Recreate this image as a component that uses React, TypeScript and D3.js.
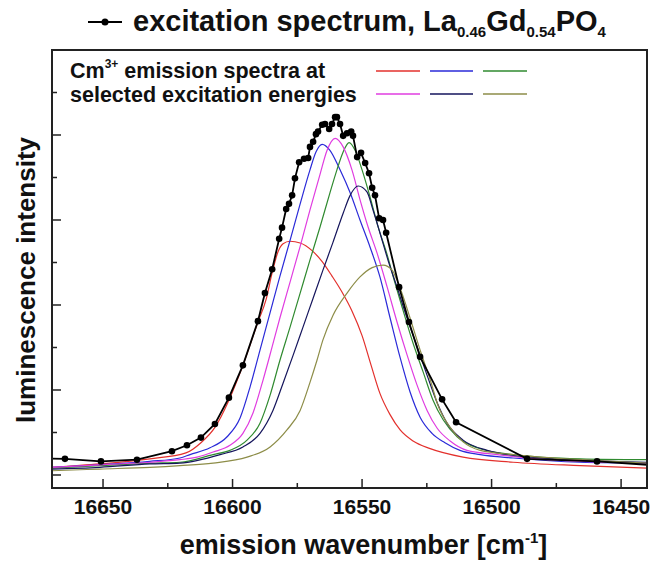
import React from "react";
import * as d3 from "d3";

// ---- data (wavenumber cm^-1, intensity a.u.) ----
const excitation: [number, number][] = [
  [16680, 0.2], [16664.7, 0.19], [16650.8, 0.16], [16636.9, 0.18], [16623.4, 0.28], [16617.6, 0.35],
  [16612.2, 0.44], [16606.8, 0.6], [16601.4, 0.91], [16596.0, 1.29], [16590.2, 1.81], [16587.5, 2.14],
  [16584.7, 2.42], [16582.0, 2.78], [16580.9, 2.91], [16579.3, 3.13], [16578.2, 3.19], [16577.0, 3.29],
  [16575.9, 3.49], [16574.3, 3.68], [16572.4, 3.72], [16570.8, 3.73], [16570.1, 3.86], [16568.9, 3.92],
  [16567.8, 4.01], [16567.0, 4.04], [16565.4, 4.12], [16564.3, 4.13], [16562.7, 4.07], [16561.6, 4.13],
  [16560.4, 4.21], [16559.7, 4.21], [16558.5, 4.13], [16557.3, 3.99], [16555.8, 4.02], [16554.2, 4.04],
  [16553.5, 3.99], [16551.9, 3.74], [16550.4, 3.79], [16548.8, 3.67], [16547.3, 3.55], [16546.1, 3.38],
  [16545.0, 3.29], [16543.4, 3.02], [16541.9, 3.0], [16540.7, 2.85], [16535.7, 2.21], [16531.9, 1.8],
  [16527.6, 1.39], [16519.1, 0.89], [16513.7, 0.62], [16486.3, 0.19], [16459.3, 0.16], [16430, 0.1],
];

const red: [number, number][] = [
  [16669.7, 0.09], [16651.2, 0.13], [16631.9, 0.19], [16618.0, 0.26], [16612.2, 0.38], [16606.8, 0.56],
  [16601.4, 0.88], [16596.0, 1.29], [16590.2, 1.8], [16587.1, 2.06], [16584.7, 2.38], [16582.4, 2.63],
  [16580.5, 2.72], [16577.8, 2.75], [16573.9, 2.73], [16569.3, 2.64], [16565.4, 2.51], [16561.6, 2.34],
  [16557.7, 2.15], [16553.9, 1.93], [16550.0, 1.64], [16546.5, 1.29], [16543.1, 0.96], [16539.2, 0.71],
  [16535.3, 0.53], [16530.3, 0.4], [16523.7, 0.31], [16511.0, 0.21], [16491.7, 0.15], [16465.8, 0.11],
  [16440.0, 0.08],
];

const blue: [number, number][] = [
  [16669.7, 0.09], [16651.2, 0.12], [16631.9, 0.16], [16620.3, 0.2], [16616.4, 0.24], [16608.7, 0.32],
  [16602.1, 0.45], [16597.1, 0.67], [16593.2, 1.04], [16589.4, 1.47], [16585.5, 1.91], [16581.7, 2.34],
  [16577.8, 2.76], [16573.9, 3.19], [16570.1, 3.59], [16567.8, 3.8], [16565.4, 3.89], [16562.4, 3.82],
  [16558.5, 3.59], [16554.6, 3.32], [16550.8, 3.0], [16546.9, 2.68], [16543.1, 2.33], [16539.2, 1.85],
  [16535.3, 1.38], [16531.5, 0.98], [16527.6, 0.68], [16523.0, 0.49], [16518.0, 0.38], [16512.2, 0.29],
  [16504.4, 0.24], [16491.7, 0.2], [16465.8, 0.15], [16440.0, 0.14],
];

const green: [number, number][] = [
  [16669.7, 0.08], [16651.2, 0.11], [16631.9, 0.14], [16620.3, 0.15], [16607.5, 0.24], [16601.0, 0.29],
  [16594.4, 0.41], [16589.4, 0.61], [16585.5, 0.94], [16581.7, 1.35], [16577.8, 1.74], [16573.9, 2.14],
  [16570.1, 2.53], [16566.2, 2.92], [16562.4, 3.32], [16559.7, 3.59], [16557.3, 3.8], [16555.0, 3.91],
  [16552.7, 3.82], [16550.0, 3.59], [16546.9, 3.27], [16543.8, 2.92], [16540.3, 2.59], [16537.3, 2.26],
  [16534.2, 1.94], [16530.3, 1.55], [16526.4, 1.21], [16522.6, 0.88], [16518.7, 0.65], [16513.3, 0.45],
  [16505.6, 0.32], [16491.7, 0.24], [16465.8, 0.19], [16440.0, 0.18],
];

const magenta: [number, number][] = [
  [16669.7, 0.09], [16651.2, 0.12], [16631.9, 0.15], [16620.3, 0.18], [16613.7, 0.21], [16607.5, 0.27],
  [16601.0, 0.35], [16596.0, 0.49], [16592.1, 0.73], [16588.2, 1.12], [16584.7, 1.51], [16581.7, 1.85],
  [16577.8, 2.27], [16573.9, 2.69], [16570.1, 3.12], [16566.2, 3.54], [16563.5, 3.82], [16560.4, 3.96],
  [16557.3, 3.86], [16553.9, 3.59], [16550.8, 3.24], [16547.7, 2.92], [16544.2, 2.61], [16540.3, 2.21],
  [16536.5, 1.8], [16532.6, 1.41], [16528.8, 1.06], [16524.9, 0.76], [16521.0, 0.55], [16516.0, 0.4],
  [16509.5, 0.29], [16497.9, 0.24], [16478.6, 0.18], [16440.0, 0.14],
];

const navy: [number, number][] = [
  [16669.7, 0.07], [16651.2, 0.09], [16631.9, 0.13], [16620.3, 0.14], [16604.8, 0.24], [16596.0, 0.33],
  [16589.4, 0.49], [16584.4, 0.76], [16580.5, 1.08], [16576.6, 1.41], [16572.8, 1.74], [16568.9, 2.08],
  [16565.1, 2.41], [16561.2, 2.74], [16557.3, 3.08], [16554.6, 3.29], [16551.5, 3.4], [16548.1, 3.33],
  [16545.8, 3.12], [16543.1, 2.85], [16540.0, 2.53], [16536.5, 2.21], [16533.0, 1.88], [16529.2, 1.55],
  [16524.5, 1.14], [16521.0, 0.85], [16517.2, 0.61], [16511.0, 0.41], [16501.7, 0.29], [16485.1, 0.21],
  [16440.0, 0.15],
];

const olive: [number, number][] = [
  [16669.7, 0.05], [16651.2, 0.07], [16631.9, 0.09], [16620.3, 0.11], [16607.5, 0.14], [16594.4, 0.21],
  [16585.5, 0.33], [16579.0, 0.53], [16573.9, 0.76], [16570.1, 1.09], [16567.4, 1.35], [16565.1, 1.59],
  [16561.2, 1.88], [16555.8, 2.14], [16550.8, 2.33], [16546.1, 2.44], [16541.9, 2.47], [16538.4, 2.41],
  [16536.5, 2.29], [16534.6, 2.14], [16531.5, 1.85], [16527.6, 1.47], [16523.7, 1.12], [16520.7, 0.82],
  [16516.0, 0.56], [16511.0, 0.39], [16504.4, 0.29], [16491.7, 0.24], [16465.8, 0.18], [16440.0, 0.14],
];

const emissionSeries = [
  { name: "red", color: "#e3302c", data: red },
  { name: "blue", color: "#2a2ad8", data: blue },
  { name: "green", color: "#2f8a2f", data: green },
  { name: "magenta", color: "#e03ce0", data: magenta },
  { name: "navy", color: "#15155c", data: navy },
  { name: "olive", color: "#8d8d48", data: olive },
];

const xMajorTicks = [16650, 16600, 16550, 16500, 16450];
const xMinorTicks = [16625, 16575, 16525, 16475];
const yMajorTicks = [0, 1, 2, 3, 4];
const yMinorTicks = [0.5, 1.5, 2.5, 3.5, 4.5];

const FONT = "'Liberation Sans', Arial, Helvetica, sans-serif";

export default function App() {
  const W = 656, H = 561;
  const L = 52, R = 647, T = 50, B = 488;
  const x = d3.scaleLinear().domain([16669.7, 16440]).range([L, R]);
  const y = d3.scaleLinear().domain([-0.153, 5]).range([B, T]);
  const line = d3
    .line<[number, number]>()
    .x((d) => x(d[0]))
    .y((d) => y(d[1]))
    .curve(d3.curveMonotoneX);
  const straight = d3
    .line<[number, number]>()
    .x((d) => x(d[0]))
    .y((d) => y(d[1]));

  const legendCols = [
    [376, 420],
    [430, 473],
    [483, 527],
  ];
  const legendRows = [71, 94];

  return (
    <svg
      width={W}
      height={H}
      viewBox={`0 0 ${W} ${H}`}
      style={{ position: "absolute", left: 0, top: 0, background: "#fff" }}
    >
      <defs>
        <clipPath id="plotClip">
          <rect x={L} y={T} width={R - L} height={B - T} />
        </clipPath>
      </defs>

      {/* title legend */}
      <line x1={88} x2={122} y1={22} y2={22} stroke="#000" strokeWidth={1.8} />
      <circle cx={105} cy={22} r={3.5} fill="#000" />
      <text x={133} y={31} fontFamily={FONT} fontWeight="bold" fontSize={29} fill="#111">
        excitation spectrum, La
        <tspan fontSize={15} dy={6}>0.46</tspan>
        <tspan dy={-6}>Gd</tspan>
        <tspan fontSize={15} dy={6}>0.54</tspan>
        <tspan dy={-6}>PO</tspan>
        <tspan fontSize={15} dy={6}>4</tspan>
      </text>

      {/* emission curves */}
      <g clipPath="url(#plotClip)">
        {emissionSeries.map((s) => (
          <path key={s.name} d={line(s.data) ?? ""} fill="none" stroke={s.color} strokeWidth={1.2} />
        ))}
        <path d={straight(excitation) ?? ""} fill="none" stroke="#000" strokeWidth={1.8} />
        {excitation.map((d, i) => (
          <circle key={i} cx={x(d[0])} cy={y(d[1])} r={3.3} fill="#000" />
        ))}
      </g>

      {/* inner legend */}
      <text x={70} y={78} fontFamily={FONT} fontWeight="bold" fontSize={21.5} fill="#111">
        Cm
        <tspan fontSize={12} dy={-10}>3+</tspan>
        <tspan dy={10}> emission spectra at</tspan>
      </text>
      <text x={70} y={102} fontFamily={FONT} fontWeight="bold" fontSize={21.5} fill="#111">
        selected excitation energies
      </text>
      {emissionSeries.map((s, i) => {
        const col = legendCols[i % 3];
        const row = legendRows[Math.floor(i / 3)];
        return (
          <line key={s.name} x1={col[0]} x2={col[1]} y1={row} y2={row} stroke={s.color} strokeWidth={1.3} />
        );
      })}

      {/* frame */}
      <rect x={L} y={T} width={R - L} height={B - T} fill="none" stroke="#222" strokeWidth={2} />

      {/* x ticks */}
      {xMajorTicks.map((t) => (
        <g key={t}>
          <line x1={x(t)} x2={x(t)} y1={B} y2={B - 9} stroke="#222" strokeWidth={1.5} />
          <text
            x={x(t)}
            y={514}
            textAnchor="middle"
            fontFamily={FONT}
            fontWeight="bold"
            fontSize={21}
            fill="#111"
          >
            {t}
          </text>
        </g>
      ))}
      {xMinorTicks.map((t) => (
        <line key={t} x1={x(t)} x2={x(t)} y1={B} y2={B - 5} stroke="#222" strokeWidth={1.5} />
      ))}

      {/* y ticks (no labels) */}
      {yMajorTicks.map((t) => (
        <line key={t} x1={L} x2={L + 9} y1={y(t)} y2={y(t)} stroke="#222" strokeWidth={1.5} />
      ))}
      {yMinorTicks.map((t) => (
        <line key={t} x1={L} x2={L + 5} y1={y(t)} y2={y(t)} stroke="#222" strokeWidth={1.5} />
      ))}

      {/* axis titles */}
      <text
        x={(L + R) / 2 + 14}
        y={554}
        textAnchor="middle"
        fontFamily={FONT}
        fontWeight="bold"
        fontSize={27}
        fill="#111"
      >
        emission wavenumber [cm
        <tspan fontSize={15} dy={-11}>-1</tspan>
        <tspan dy={11}>]</tspan>
      </text>
      <text
        transform={`translate(35, 280) rotate(-90)`}
        textAnchor="middle"
        fontFamily={FONT}
        fontWeight="bold"
        fontSize={26}
        fill="#111"
      >
        luminescence intensity
      </text>
    </svg>
  );
}
